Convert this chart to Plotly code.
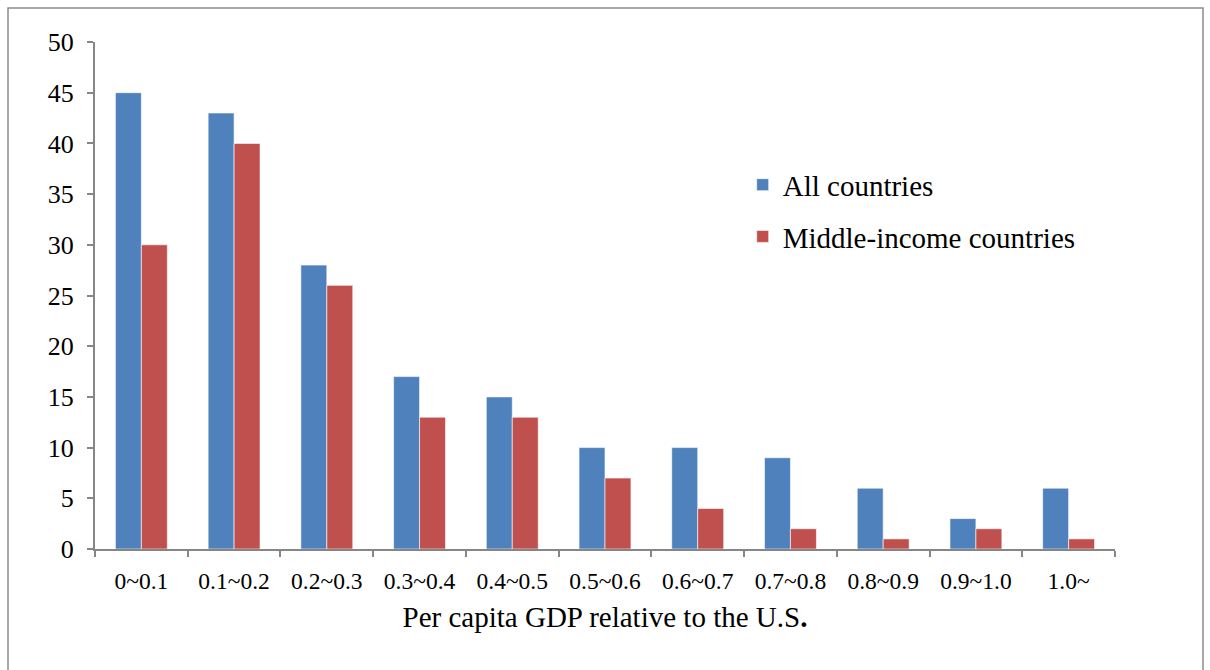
import plotly.graph_objects as go

categories = ["0~0.1", "0.1~0.2", "0.2~0.3", "0.3~0.4", "0.4~0.5", "0.5~0.6",
              "0.6~0.7", "0.7~0.8", "0.8~0.9", "0.9~1.0", "1.0~"]
all_countries = [45, 43, 28, 17, 15, 10, 10, 9, 6, 3, 6]
middle_income = [30, 40, 26, 13, 13, 7, 4, 2, 1, 2, 1]
y_ticks = [0, 5, 10, 15, 20, 25, 30, 35, 40, 45, 50]

FONT = "Liberation Serif, Times New Roman, serif"
AXIS_GRAY = "#868686"

fig = go.Figure()
fig.add_trace(go.Bar(x=categories, y=all_countries, name="All countries",
                     marker=dict(color="#4F81BD", line=dict(color="rgba(255,255,255,0.6)", width=1)),
                     legendgroup="a"))
fig.add_trace(go.Bar(x=categories, y=middle_income, name="Middle-income countries",
                     marker=dict(color="#C0504D", line=dict(color="rgba(255,255,255,0.6)", width=1)),
                     legendgroup="b"))

fig.update_layout(
    width=1210, height=670,
    margin=dict(l=95, r=95, t=42, b=121, autoexpand=False),
    paper_bgcolor="white", plot_bgcolor="white",
    barmode="group", bargap=0.44, bargroupgap=0,
    font=dict(family=FONT, color="black"),
    showlegend=True,
    legend=dict(x=0.635, y=0.667, xanchor="left", yanchor="middle",
                font=dict(size=29, family=FONT), tracegroupgap=11,
                traceorder="grouped", bgcolor="rgba(0,0,0,0)"),
    xaxis=dict(range=[-0.5, 10.5], showline=True, linecolor=AXIS_GRAY, linewidth=2,
               ticks="outside", tickson="boundaries", ticklen=6, tickcolor=AXIS_GRAY,
               tickwidth=2, tickfont=dict(size=23.5, family=FONT), showgrid=False,
               zeroline=False, ticklabelstandoff=10,
               title=dict(text="Per capita GDP relative to the U.S<b>.</b>",
                          font=dict(size=29, family=FONT), standoff=13)),
    yaxis=dict(range=[0, 50], tickvals=y_ticks, showline=True, linecolor=AXIS_GRAY,
               linewidth=2, ticks="outside", ticklen=6, tickcolor=AXIS_GRAY, tickwidth=2,
               tickfont=dict(size=26, family=FONT), showgrid=False, zeroline=False,
               ticklabelstandoff=8),
    shapes=[dict(type="rect", xref="paper", yref="paper",
                 x0=(8 - 95) / 1020, x1=(1203 - 95) / 1020,
                 y0=(549 - 690) / 507, y1=(549 - 8) / 507,
                 line=dict(color="#8c8c8c", width=1.5), fillcolor="rgba(0,0,0,0)",
                 layer="below")],
)

fig.write_html("out.html")
